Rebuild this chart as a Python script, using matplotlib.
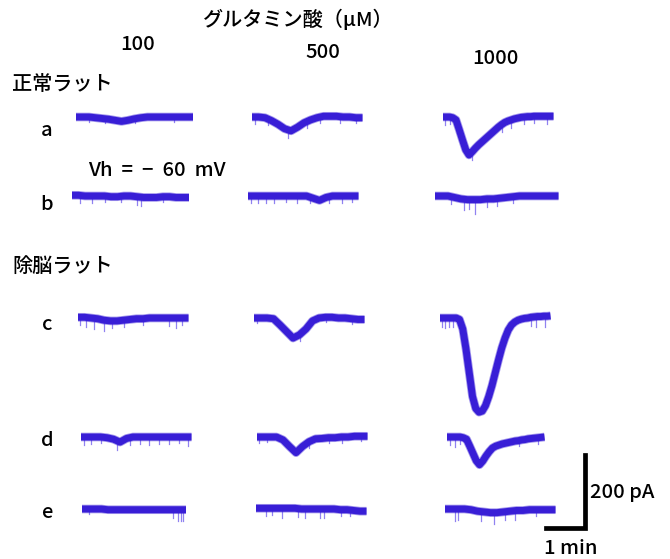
#!/usr/bin/env python3
"""Glutamate-evoked inward currents, normal vs decerebrate rats (traces a-e)."""

import numpy as np
import matplotlib
matplotlib.use("Agg")
import matplotlib.pyplot as plt

plt.rcParams["font.family"] = ["Noto Sans CJK JP", "DejaVu Sans"]

# holding current relative to baseline, pA; 10 s per value unless the
# name ends in _5S (5 s per value, used for the large responses)
A_100 = [0, 0, 0, -2, -4, -6, -9, -12, -9, -5, -2, 0, 0, 0, 0, 0, 0, 0, 0]
A_500 = [0, 0, -2, -10, -20, -32, -38, -28, -16, -8, -2, 2, 2, 2, 0, 0, -2, -2]
A_1000_5S = [0, 0, 0, -2, -8, -35, -63, -90, -104, -95, -85, -76, -68, -60, -52,
             -44, -36, -28, -21, -15, -11, -8, -5, -3, -1, 0, 1, 1, 2, 2, 2, 2, 2, 2, 2]
B_100 = [2, 2, 0, 0, 0, 0, -2, -2, 0, 0, -2, -4, -4, -4, -2, -2, -4, -4, -4]
B_500 = [0, 0, 0, 0, 0, 0, 0, 0, 0, 0, -6, -12, -4, 0, 0, 0, 0, 0]
B_1000 = [0, 0, 0, -4, -8, -10, -10, -10, -8, -8, -6, -4, -2, 0, 0, 0, 0, 0, 0, 0]
C_100 = [2, 2, 0, -2, -6, -8, -8, -6, -4, -2, -2, 0, 0, 0, 0, 0, 0, 0]
C_500 = [0, 0, 0, -2, -19, -37, -55, -46, -30, -8, 0, 2, 2, 0, 0, -2, -4, -4]
C_1000_5S = [0, 0, 0, 0, 0, 0, -4, -30, -85, -150, -215, -248, -258, -255, -240,
             -215, -185, -150, -115, -82, -55, -33, -19, -11, -6, -3, -1, 0, 2, 3,
             4, 4, 5, 5, 6]
D_100 = [0, 0, 0, 0, -2, -6, -14, -4, 0, 0, 0, 0, 0, 0, 0, 0, 0, 0]
D_500 = [0, 0, 0, 0, -8, -26, -43, -26, -13, -5, -4, -2, -2, 0, 0, 2, 2, 2]
D_1000_5S = [0, 0, 0, 0, 0, -2, -6, -25, -45, -65, -76, -66, -52, -40, -30, -25,
             -22, -19, -17, -15, -13, -11, -10, -8, -7, -5, -4, -3, -2, -1, 0]
E_100 = [0, 0, 0, 0, -2, -2, -2, -2, -2, -2, -2, -2, -2, -2, -2, -2, -2]
E_500 = [2, 2, 2, 2, 2, 2, 2, 0, 0, 0, 0, 0, 0, -2, -2, -4, -6, -6]
E_1000 = [0, 0, 0, 0, -2, -6, -8, -10, -10, -8, -6, -4, -4, -2, -2, -2, -2, -2]

# spontaneous events: (time s, amplitude pA below the trace)
SP_A_100 = [(20, -14), (45, -12), (90, -12), (150, -14)]
SP_A_500 = [(5, -18), (25, -16), (55, -22), (85, -18), (105, -16), (135, -18), (160, -14)]
SP_A_1000 = [(3, -22), (10, -20), (22, -26), (45, -24), (90, -20), (105, -22), (125, -20), (140, -18), (160, -22)]
SP_B_100 = [(12, -20), (30, -18), (50, -16), (75, -16), (100, -22), (106, -24), (140, -14)]
SP_B_500 = [(5, -18), (15, -20), (28, -18), (40, -20), (58, -16), (75, -18), (95, -16), (125, -18), (145, -20), (160, -16)]
SP_B_1000 = [(25, -20), (45, -30), (52, -26), (62, -40), (80, -22), (95, -20), (120, -16)]
SP_C_100 = [(3, -22), (12, -26), (25, -28), (40, -30), (52, -20), (70, -18), (100, -18), (140, -22), (150, -28), (160, -20)]
SP_C_500 = [(5, -14), (70, -16), (110, -14), (150, -14)]
SP_C_1000 = [(3, -26), (8, -28), (14, -24), (20, -26), (140, -24), (148, -28), (162, -30)]
SP_D_100 = [(5, -22), (15, -18), (30, -16), (55, -26), (75, -20), (90, -18), (105, -22), (120, -18), (135, -20), (150, -16), (165, -24)]
SP_D_500 = [(3, -16), (15, -14), (80, -16), (110, -14), (130, -16), (160, -14)]
SP_D_1000 = [(4, -22), (12, -28), (20, -18), (110, -14), (140, -16)]
SP_E_100 = [(10, -14), (140, -22), (148, -30), (152, -32), (156, -30)]
SP_E_500 = [(15, -20), (25, -18), (40, -26), (65, -22), (75, -24), (98, -26), (105, -24), (130, -18), (145, -16)]
SP_E_1000 = [(15, -34), (20, -30), (55, -26), (75, -30), (92, -22), (108, -26), (140, -16)]

ROWS = ["a", "b", "c", "d", "e"]
DOSES = [100, 500, 1000]
TRACES = {
    ("a", 100): (A_100, 10, SP_A_100), ("a", 500): (A_500, 10, SP_A_500),
    ("a", 1000): (A_1000_5S, 5, SP_A_1000),
    ("b", 100): (B_100, 10, SP_B_100), ("b", 500): (B_500, 10, SP_B_500),
    ("b", 1000): (B_1000, 10, SP_B_1000),
    ("c", 100): (C_100, 10, SP_C_100), ("c", 500): (C_500, 10, SP_C_500),
    ("c", 1000): (C_1000_5S, 5, SP_C_1000),
    ("d", 100): (D_100, 10, SP_D_100), ("d", 500): (D_500, 10, SP_D_500),
    ("d", 1000): (D_1000_5S, 5, SP_D_1000),
    ("e", 100): (E_100, 10, SP_E_100), ("e", 500): (E_500, 10, SP_E_500),
    ("e", 1000): (E_1000, 10, SP_E_1000),
}

SCALE_PA = 200
SCALE_MIN = 1

# layout (figure pixels)
PX_PER_S = 39 / 60
PX_PER_PA = 73 / 200
ROW_Y = {"a": 117, "b": 196, "c": 318, "d": 437, "e": 509}
TRACE_X0 = {
    ("a", 100): 76, ("a", 500): 252, ("a", 1000): 443,
    ("b", 100): 72, ("b", 500): 248, ("b", 1000): 435,
    ("c", 100): 78, ("c", 500): 254, ("c", 1000): 440,
    ("d", 100): 81, ("d", 500): 257, ("d", 1000): 447,
    ("e", 100): 82, ("e", 500): 256, ("e", 1000): 445,
}
TRACE_COLOR = "#381ed6"
SPIKE_COLOR = "#7d6cee"
FS = 14.5

fig = plt.figure(figsize=(6.7, 5.59), dpi=100)
ax = fig.add_axes([0, 0, 1, 1])
ax.set_xlim(0, 670)
ax.set_ylim(559, 0)
ax.axis("off")


def to_px(key, t, pa):
    x = TRACE_X0[key] + np.asarray(t, float) * PX_PER_S
    y = ROW_Y[key[0]] - np.asarray(pa, float) * PX_PER_PA
    return x, y


for key, (vals, step, spikes) in TRACES.items():
    vals = np.asarray(vals, float)
    t = np.arange(len(vals)) * step
    for st, amp in spikes:
        base = np.interp(st, t, vals)
        x, y = to_px(key, [st, st], [base, base + amp])
        ax.plot(x, y, color=SPIKE_COLOR, lw=0.9, alpha=0.85, zorder=1)
    x, y = to_px(key, t, vals)
    # soft edge, then the dense core of the noisy band
    ax.plot(x, y, color=TRACE_COLOR, lw=6.2, alpha=0.45,
            solid_capstyle="butt", solid_joinstyle="round", zorder=2)
    ax.plot(x, y, color=TRACE_COLOR, lw=5.0,
            solid_capstyle="butt", solid_joinstyle="round", zorder=3)

# scale bar
cx, cy = 585, 528
ax.plot([cx - SCALE_MIN * 60 * PX_PER_S, cx, cx],
        [cy, cy, cy - SCALE_PA * PX_PER_PA],
        color="black", lw=3.4, solid_capstyle="projecting",
        solid_joinstyle="miter")

text_kw = dict(fontsize=FS, fontweight="medium", va="center")
ax.text(590, 493, f"{SCALE_PA} pA", ha="left", **text_kw)
ax.text(544, 548, f"{SCALE_MIN} min", ha="left", **text_kw)

ax.text(298, 19, "グルタミン酸（μM）", ha="center", **text_kw)
for dose, (x, y) in zip(DOSES, [(138, 45), (323, 52), (495, 58)]):
    ax.text(x, y, str(dose), ha="center", **text_kw)
ax.text(12, 85, "正常ラット", ha="left", **text_kw)
ax.text(12, 266, "除脳ラット", ha="left", **text_kw)
for row, y in zip(ROWS, [130, 205, 325, 440, 512]):
    ax.text(47, y, row, ha="center", **text_kw)
ax.text(88, 170, "Vh  =  −  60  mV", ha="left", **text_kw)

fig.savefig("out.png", dpi=100)
